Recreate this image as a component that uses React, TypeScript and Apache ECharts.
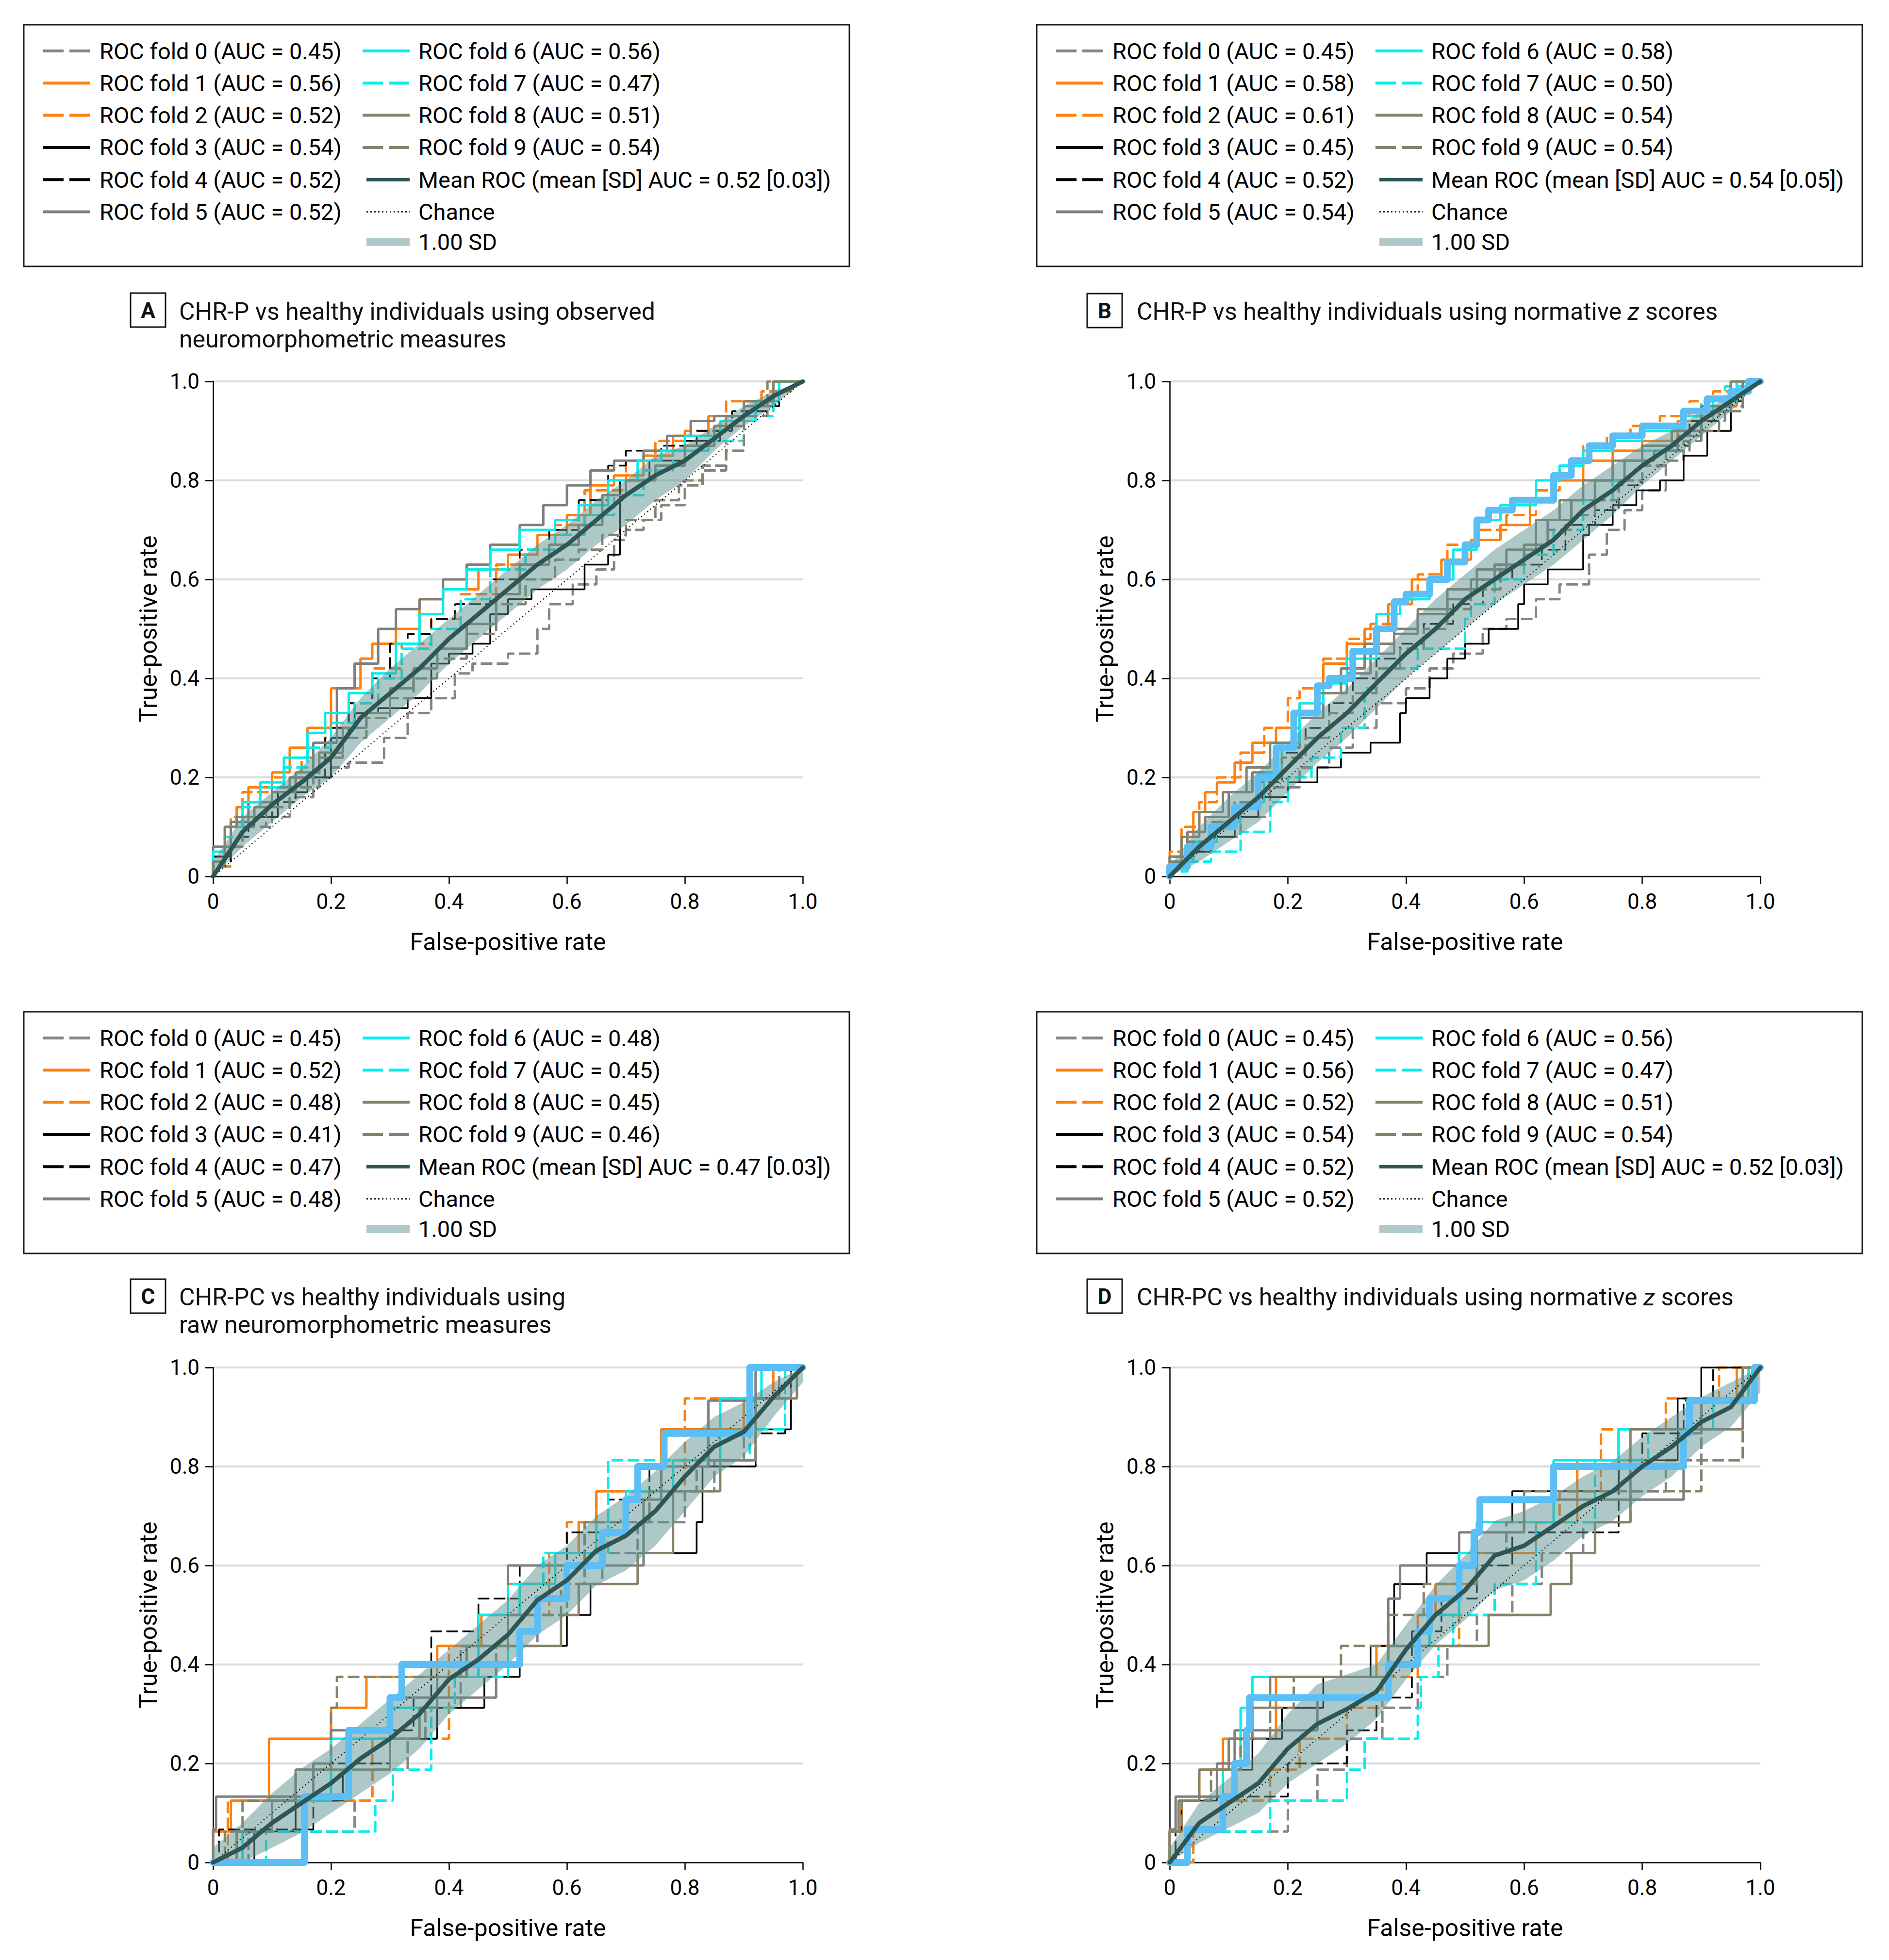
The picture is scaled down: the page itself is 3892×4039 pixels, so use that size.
import React, { useEffect, useRef } from "react";
import * as echarts from "echarts";

// ---------- shared ----------
const TICKS_NOTE = "ticks 0, 0.2, 0.4, 0.6, 0.8, 1.0";
const X_BAND = [0, 0.05, 0.1, 0.15, 0.2, 0.25, 0.3, 0.35, 0.4, 0.45, 0.5, 0.55, 0.6, 0.65, 0.7, 0.75, 0.8, 0.85, 0.9, 0.95, 1];
const CHANCE = [[0, 0], [1, 1]];

// ---------- Panel A ----------
const A_AUC = ["0.45", "0.56", "0.52", "0.54", "0.52", "0.52", "0.56", "0.47", "0.51", "0.54"];
const A_MEAN_LABEL = "0.52 [0.03]";
const A_F0 = [[0,0],[0.02,0.04],[0.05,0.08],[0.1,0.1],[0.13,0.12],[0.17,0.16],[0.2,0.2],[0.23,0.22],[0.29,0.23],[0.33,0.28],[0.37,0.33],[0.41,0.36],[0.44,0.41],[0.5,0.43],[0.55,0.45],[0.57,0.5],[0.61,0.55],[0.65,0.59],[0.68,0.62],[0.7,0.68],[0.73,0.7],[0.76,0.72],[0.8,0.75],[0.83,0.8],[0.87,0.83],[0.9,0.88],[0.95,0.94],[1,1]];
const A_F1 = [[0,0],[0.02,0.03],[0.04,0.1],[0.06,0.14],[0.1,0.18],[0.13,0.21],[0.16,0.26],[0.2,0.3],[0.25,0.38],[0.27,0.44],[0.31,0.47],[0.35,0.5],[0.39,0.56],[0.45,0.58],[0.5,0.62],[0.55,0.65],[0.6,0.69],[0.64,0.73],[0.68,0.79],[0.73,0.81],[0.78,0.85],[0.84,0.89],[0.9,0.93],[0.95,0.96],[1,1]];
const A_F2 = [[0,0],[0.03,0.02],[0.05,0.12],[0.1,0.17],[0.15,0.2],[0.19,0.24],[0.23,0.3],[0.27,0.35],[0.32,0.42],[0.37,0.47],[0.42,0.52],[0.48,0.57],[0.53,0.63],[0.58,0.66],[0.63,0.71],[0.7,0.78],[0.75,0.84],[0.8,0.88],[0.87,0.9],[0.93,0.96],[0.98,0.98],[1,1]];
const A_F3 = [[0,0],[0.03,0.04],[0.07,0.1],[0.11,0.12],[0.16,0.17],[0.2,0.2],[0.24,0.3],[0.28,0.33],[0.33,0.34],[0.37,0.36],[0.4,0.43],[0.44,0.45],[0.47,0.47],[0.5,0.53],[0.54,0.56],[0.63,0.58],[0.67,0.63],[0.69,0.65],[0.74,0.8],[0.8,0.84],[0.86,0.88],[0.92,0.92],[0.96,0.95],[1,1]];
const A_F4 = [[0,0],[0.03,0.03],[0.06,0.08],[0.1,0.12],[0.14,0.15],[0.19,0.2],[0.23,0.28],[0.27,0.35],[0.3,0.4],[0.33,0.47],[0.37,0.49],[0.41,0.52],[0.47,0.55],[0.52,0.6],[0.57,0.66],[0.62,0.7],[0.67,0.76],[0.7,0.83],[0.76,0.86],[0.82,0.87],[0.88,0.9],[0.94,0.94],[1,1]];
const A_F5 = [[0,0],[0.03,0.06],[0.06,0.11],[0.1,0.15],[0.13,0.18],[0.17,0.2],[0.21,0.27],[0.24,0.38],[0.28,0.43],[0.31,0.5],[0.35,0.54],[0.39,0.56],[0.43,0.6],[0.47,0.63],[0.52,0.67],[0.56,0.71],[0.6,0.75],[0.64,0.79],[0.68,0.82],[0.73,0.84],[0.77,0.86],[0.81,0.89],[0.85,0.92],[0.9,0.93],[0.95,0.95],[1,1]];
const A_F6 = [[0,0],[0.02,0.05],[0.05,0.1],[0.08,0.15],[0.12,0.19],[0.16,0.24],[0.19,0.29],[0.23,0.33],[0.27,0.37],[0.31,0.41],[0.35,0.47],[0.39,0.53],[0.43,0.58],[0.47,0.62],[0.52,0.66],[0.58,0.7],[0.62,0.72],[0.67,0.75],[0.72,0.8],[0.76,0.84],[0.8,0.86],[0.86,0.89],[0.92,0.92],[0.96,0.96],[1,1]];
const A_F7 = [[0,0],[0.02,0.03],[0.05,0.08],[0.08,0.14],[0.12,0.18],[0.16,0.22],[0.2,0.26],[0.24,0.31],[0.28,0.35],[0.32,0.4],[0.37,0.46],[0.42,0.5],[0.47,0.56],[0.53,0.62],[0.58,0.66],[0.63,0.69],[0.68,0.73],[0.73,0.77],[0.78,0.82],[0.84,0.86],[0.9,0.88],[0.95,0.93],[1,1]];
const A_F8 = [[0,0],[0.02,0.03],[0.04,0.1],[0.07,0.12],[0.1,0.14],[0.14,0.17],[0.18,0.21],[0.22,0.25],[0.26,0.3],[0.3,0.33],[0.34,0.38],[0.38,0.42],[0.43,0.46],[0.48,0.51],[0.52,0.57],[0.57,0.63],[0.62,0.67],[0.66,0.71],[0.7,0.77],[0.75,0.8],[0.8,0.83],[0.85,0.87],[0.9,0.91],[0.95,0.96],[1,1]];
const A_F9 = [[0,0],[0.02,0.02],[0.05,0.06],[0.09,0.1],[0.13,0.14],[0.18,0.18],[0.22,0.24],[0.26,0.28],[0.3,0.32],[0.34,0.36],[0.38,0.4],[0.43,0.44],[0.48,0.49],[0.53,0.55],[0.58,0.6],[0.62,0.64],[0.66,0.66],[0.7,0.69],[0.75,0.72],[0.79,0.76],[0.83,0.79],[0.87,0.82],[0.9,0.86],[0.94,0.93],[1,1]];
const A_MEAN = [0, 0.09, 0.145, 0.19, 0.24, 0.32, 0.37, 0.42, 0.48, 0.53, 0.58, 0.63, 0.67, 0.72, 0.77, 0.81, 0.84, 0.885, 0.93, 0.97, 1];
const A_UPPER = [0.03, 0.12, 0.17, 0.22, 0.28, 0.36, 0.42, 0.47, 0.52, 0.57, 0.62, 0.67, 0.71, 0.76, 0.8, 0.85, 0.87, 0.91, 0.95, 0.98, 1];
const A_LOWER = [0, 0.06, 0.11, 0.16, 0.2, 0.27, 0.32, 0.37, 0.43, 0.48, 0.53, 0.58, 0.62, 0.67, 0.71, 0.76, 0.8, 0.86, 0.91, 0.95, 1];

// ---------- Panel B ----------
const B_AUC = ["0.45", "0.58", "0.61", "0.45", "0.52", "0.54", "0.58", "0.50", "0.54", "0.54"];
const B_MEAN_LABEL = "0.54 [0.05]";
const B_F0 = [[0,0],[0.03,0.03],[0.07,0.05],[0.12,0.08],[0.17,0.12],[0.22,0.18],[0.27,0.22],[0.31,0.26],[0.35,0.3],[0.4,0.35],[0.44,0.38],[0.48,0.42],[0.53,0.45],[0.57,0.5],[0.62,0.52],[0.66,0.56],[0.71,0.59],[0.74,0.65],[0.77,0.7],[0.8,0.74],[0.84,0.78],[0.87,0.84],[0.9,0.88],[0.94,0.92],[0.97,0.95],[1,1]];
const B_F1 = [[0,0],[0.02,0.03],[0.04,0.08],[0.06,0.13],[0.08,0.17],[0.11,0.19],[0.14,0.23],[0.18,0.27],[0.22,0.3],[0.26,0.35],[0.3,0.43],[0.33,0.47],[0.37,0.5],[0.41,0.55],[0.46,0.6],[0.51,0.64],[0.56,0.68],[0.61,0.71],[0.65,0.76],[0.7,0.8],[0.75,0.84],[0.8,0.86],[0.86,0.88],[0.92,0.92],[0.96,0.95],[1,1]];
const B_F2 = [[0,0],[0.02,0.05],[0.05,0.1],[0.08,0.15],[0.12,0.2],[0.16,0.25],[0.2,0.3],[0.22,0.36],[0.26,0.38],[0.3,0.44],[0.34,0.48],[0.38,0.51],[0.42,0.56],[0.47,0.61],[0.52,0.67],[0.57,0.7],[0.62,0.73],[0.66,0.78],[0.7,0.83],[0.74,0.87],[0.78,0.89],[0.83,0.91],[0.88,0.93],[0.92,0.96],[0.97,0.98],[1,1]];
const B_F3 = [[0,0],[0.03,0.02],[0.07,0.05],[0.11,0.08],[0.15,0.12],[0.2,0.16],[0.25,0.19],[0.29,0.22],[0.34,0.25],[0.39,0.27],[0.4,0.33],[0.44,0.36],[0.47,0.4],[0.5,0.44],[0.54,0.47],[0.59,0.5],[0.6,0.55],[0.64,0.59],[0.7,0.62],[0.71,0.69],[0.75,0.71],[0.79,0.75],[0.83,0.78],[0.87,0.8],[0.91,0.85],[0.95,0.9],[1,1]];
const B_F4 = [[0,0],[0.03,0.03],[0.07,0.06],[0.11,0.1],[0.15,0.14],[0.19,0.19],[0.23,0.25],[0.27,0.3],[0.31,0.35],[0.35,0.4],[0.39,0.44],[0.43,0.47],[0.48,0.51],[0.53,0.55],[0.58,0.6],[0.63,0.63],[0.67,0.66],[0.72,0.71],[0.76,0.74],[0.8,0.79],[0.84,0.83],[0.88,0.87],[0.93,0.92],[0.97,0.96],[1,1]];
const B_F5 = [[0,0],[0.03,0.04],[0.06,0.09],[0.1,0.12],[0.14,0.17],[0.18,0.21],[0.22,0.26],[0.26,0.32],[0.3,0.37],[0.34,0.41],[0.38,0.45],[0.42,0.49],[0.47,0.53],[0.51,0.56],[0.55,0.6],[0.6,0.63],[0.64,0.67],[0.68,0.72],[0.72,0.76],[0.77,0.8],[0.82,0.84],[0.86,0.86],[0.9,0.89],[0.95,0.94],[1,1]];
const B_F6 = [[0,0],[0.04,0.03],[0.08,0.07],[0.12,0.11],[0.16,0.15],[0.19,0.21],[0.22,0.27],[0.26,0.35],[0.3,0.39],[0.35,0.44],[0.39,0.53],[0.44,0.56],[0.48,0.6],[0.52,0.66],[0.56,0.72],[0.62,0.75],[0.66,0.8],[0.7,0.83],[0.75,0.86],[0.8,0.88],[0.87,0.9],[0.92,0.93],[0.96,0.96],[1,1]];
const B_F7 = [[0,0],[0.03,0.01],[0.07,0.03],[0.12,0.05],[0.17,0.09],[0.2,0.15],[0.24,0.2],[0.29,0.24],[0.33,0.3],[0.35,0.38],[0.42,0.42],[0.5,0.46],[0.51,0.52],[0.55,0.55],[0.6,0.6],[0.65,0.65],[0.7,0.7],[0.75,0.76],[0.8,0.8],[0.85,0.86],[0.9,0.9],[0.94,0.96],[0.98,0.99],[1,1]];
const B_F8 = [[0,0],[0.02,0.04],[0.05,0.08],[0.09,0.13],[0.13,0.17],[0.17,0.22],[0.21,0.27],[0.25,0.33],[0.29,0.37],[0.33,0.42],[0.38,0.47],[0.42,0.5],[0.47,0.54],[0.52,0.58],[0.57,0.62],[0.62,0.66],[0.66,0.72],[0.7,0.76],[0.75,0.8],[0.8,0.84],[0.85,0.87],[0.9,0.9],[0.95,0.95],[1,1]];
const B_F9 = [[0,0],[0.03,0.03],[0.07,0.07],[0.11,0.11],[0.15,0.15],[0.19,0.2],[0.23,0.24],[0.27,0.28],[0.31,0.33],[0.35,0.37],[0.39,0.42],[0.43,0.46],[0.47,0.5],[0.51,0.54],[0.56,0.58],[0.6,0.63],[0.64,0.67],[0.68,0.7],[0.72,0.73],[0.76,0.76],[0.8,0.8],[0.84,0.83],[0.88,0.86],[0.93,0.9],[0.97,0.94],[1,1]];
const B_HIGHLIGHT = [[0,0],[0.03,0.02],[0.07,0.06],[0.11,0.1],[0.15,0.14],[0.18,0.2],[0.21,0.26],[0.25,0.33],[0.27,0.385],[0.31,0.4],[0.35,0.455],[0.38,0.5],[0.4,0.555],[0.44,0.57],[0.47,0.6],[0.5,0.635],[0.52,0.67],[0.54,0.72],[0.58,0.74],[0.65,0.76],[0.68,0.81],[0.71,0.84],[0.75,0.87],[0.8,0.89],[0.87,0.91],[0.91,0.94],[0.95,0.965],[0.98,0.98],[1,1]];
const B_MEAN = [0, 0.06, 0.11, 0.16, 0.22, 0.28, 0.33, 0.39, 0.45, 0.5, 0.56, 0.6, 0.64, 0.68, 0.74, 0.78, 0.83, 0.87, 0.92, 0.96, 1];
const B_UPPER = [0.02, 0.1, 0.16, 0.21, 0.27, 0.33, 0.38, 0.44, 0.5, 0.56, 0.61, 0.66, 0.7, 0.74, 0.79, 0.83, 0.87, 0.9, 0.94, 0.97, 1];
const B_LOWER = [0, 0.03, 0.07, 0.11, 0.17, 0.23, 0.28, 0.34, 0.4, 0.45, 0.5, 0.55, 0.59, 0.63, 0.68, 0.73, 0.79, 0.84, 0.89, 0.94, 1];

// ---------- Panel C ----------
const C_AUC = ["0.45", "0.52", "0.48", "0.41", "0.47", "0.48", "0.48", "0.45", "0.45", "0.46"];
const C_MEAN_LABEL = "0.47 [0.03]";
const C_F0 = [[0,0],[0.06,0],[0.12,0.0625],[0.24,0.0625],[0.27,0.125],[0.33,0.1875],[0.36,0.25],[0.42,0.3125],[0.48,0.375],[0.55,0.4375],[0.6,0.5],[0.66,0.5625],[0.72,0.625],[0.8,0.6875],[0.85,0.75],[0.9,0.8125],[0.96,0.9375],[1,1]];
const C_F1 = [[0,0],[0.03,0.0625],[0.095,0.125],[0.2,0.25],[0.26,0.3125],[0.38,0.375],[0.455,0.4375],[0.5,0.5],[0.58,0.5625],[0.62,0.625],[0.65,0.6875],[0.76,0.75],[0.79,0.875],[0.9,0.875],[0.95,0.9375],[1,1]];
const C_F2 = [[0,0],[0.025,0],[0.1,0.125],[0.27,0.125],[0.3,0.25],[0.4,0.25],[0.45,0.4375],[0.52,0.5],[0.57,0.5],[0.6,0.625],[0.65,0.6875],[0.72,0.75],[0.8,0.75],[0.86,0.9375],[0.97,0.9375],[1,1]];
const C_F3 = [[0,0],[0.07,0],[0.14,0.0625],[0.22,0.125],[0.3,0.1875],[0.38,0.25],[0.46,0.3125],[0.52,0.375],[0.6,0.4375],[0.64,0.5],[0.72,0.5625],[0.76,0.625],[0.82,0.625],[0.83,0.6875],[0.92,0.8],[0.98,0.875],[1,1]];
const C_F4 = [[0,0],[0.01,0],[0.1,0.0667],[0.17,0.0667],[0.2,0.133],[0.3,0.2],[0.34,0.267],[0.37,0.333],[0.45,0.467],[0.52,0.533],[0.6,0.6],[0.67,0.667],[0.74,0.733],[0.8,0.8],[0.92,0.8],[0.97,0.867],[0.99,1],[1,1]];
const C_F5 = [[0,0],[0.005,0.0667],[0.03,0.133],[0.17,0.133],[0.2,0.2],[0.3,0.267],[0.36,0.333],[0.48,0.333],[0.5,0.4],[0.55,0.6],[0.73,0.6],[0.76,0.733],[0.84,0.8],[0.85,0.933],[0.92,0.933],[0.97,1],[1,1]];
const C_F6 = [[0,0],[0.05,0],[0.1,0.0625],[0.2,0.125],[0.3,0.25],[0.38,0.3125],[0.45,0.375],[0.52,0.5],[0.58,0.5625],[0.65,0.625],[0.7,0.6875],[0.78,0.75],[0.86,0.8125],[0.93,0.9375],[1,1]];
const C_F7 = [[0,0],[0.09,0],[0.14,0.0625],[0.275,0.0625],[0.305,0.125],[0.37,0.1875],[0.41,0.3125],[0.5,0.375],[0.56,0.5625],[0.67,0.625],[0.91,0.8125],[0.97,0.875],[1,1]];
const C_F8 = [[0,0],[0.04,0],[0.1,0.0625],[0.14,0.125],[0.3,0.1875],[0.35,0.25],[0.38,0.3125],[0.43,0.375],[0.59,0.4375],[0.62,0.5],[0.72,0.5625],[0.78,0.625],[0.86,0.75],[0.92,0.8125],[0.99,0.9375],[1,1]];
const C_F9 = [[0,0],[0.02,0],[0.05,0.0625],[0.14,0.125],[0.2,0.1875],[0.21,0.3125],[0.36,0.375],[0.42,0.375],[0.5,0.4375],[0.59,0.5],[0.63,0.5625],[0.74,0.6875],[0.82,0.75],[0.92,0.8125],[0.98,0.9375],[1,1]];
const C_HIGHLIGHT = [[0,0],[0.155,0],[0.23,0.133],[0.3,0.267],[0.32,0.333],[0.52,0.4],[0.55,0.467],[0.6,0.533],[0.66,0.6],[0.7,0.667],[0.72,0.733],[0.765,0.8],[0.91,0.867],[1,1]];
const C_MEAN = [0, 0.03, 0.08, 0.12, 0.16, 0.21, 0.25, 0.3, 0.37, 0.41, 0.46, 0.53, 0.57, 0.63, 0.66, 0.71, 0.78, 0.84, 0.87, 0.94, 1];
const C_UPPER = [0.03, 0.08, 0.14, 0.19, 0.23, 0.28, 0.33, 0.38, 0.43, 0.48, 0.53, 0.6, 0.64, 0.7, 0.74, 0.79, 0.85, 0.9, 0.93, 0.97, 1];
const C_LOWER = [0, 0, 0.03, 0.06, 0.1, 0.14, 0.18, 0.23, 0.3, 0.35, 0.4, 0.46, 0.5, 0.56, 0.59, 0.64, 0.71, 0.78, 0.82, 0.9, 0.97];

// ---------- Panel D ----------
const D_AUC = ["0.45", "0.56", "0.52", "0.54", "0.52", "0.52", "0.56", "0.47", "0.51", "0.54"];
const D_MEAN_LABEL = "0.52 [0.03]";
const D_F0 = [[0,0],[0.03,0],[0.1,0.0625],[0.2,0.0625],[0.25,0.125],[0.3,0.1875],[0.36,0.25],[0.42,0.3125],[0.47,0.375],[0.52,0.4375],[0.58,0.5],[0.63,0.5625],[0.7,0.625],[0.78,0.6875],[0.84,0.75],[0.9,0.8125],[0.97,0.875],[1,1]];
const D_F1 = [[0,0],[0.02,0.0625],[0.05,0.125],[0.09,0.1875],[0.18,0.25],[0.35,0.375],[0.42,0.4375],[0.45,0.5],[0.52,0.5625],[0.62,0.625],[0.69,0.6875],[0.76,0.8125],[0.9,0.875],[0.96,0.9375],[1,1]];
const D_F2 = [[0,0],[0.04,0],[0.09,0.0625],[0.17,0.125],[0.22,0.1875],[0.3,0.25],[0.36,0.3125],[0.42,0.375],[0.49,0.4375],[0.55,0.5],[0.62,0.5625],[0.66,0.6875],[0.73,0.75],[0.84,0.875],[0.93,0.9375],[1,1]];
const D_F3 = [[0,0],[0.02,0.0625],[0.08,0.125],[0.14,0.1875],[0.19,0.25],[0.26,0.3125],[0.34,0.375],[0.38,0.4375],[0.4,0.5625],[0.435,0.5625],[0.52,0.625],[0.58,0.6875],[0.76,0.75],[0.86,0.8125],[0.9,0.9375],[1,1]];
const D_F4 = [[0,0],[0.01,0],[0.1,0.133],[0.2,0.133],[0.3,0.2],[0.35,0.267],[0.41,0.333],[0.46,0.467],[0.52,0.533],[0.58,0.6],[0.76,0.667],[0.8,0.8],[0.87,0.867],[0.92,0.933],[0.98,1],[1,1]];
const D_F5 = [[0,0],[0.01,0.0667],[0.08,0.133],[0.11,0.2],[0.25,0.267],[0.37,0.333],[0.39,0.533],[0.49,0.6],[0.6,0.667],[0.87,0.733],[0.9,0.867],[0.97,0.933],[1,1]];
const D_F6 = [[0,0],[0.03,0],[0.09,0.0625],[0.12,0.1875],[0.14,0.3125],[0.37,0.375],[0.44,0.4375],[0.49,0.5],[0.52,0.625],[0.65,0.6875],[0.76,0.8125],[0.88,0.875],[0.98,0.9375],[1,1]];
const D_F7 = [[0,0],[0.03,0],[0.17,0.0625],[0.3,0.125],[0.33,0.1875],[0.42,0.25],[0.425,0.3125],[0.455,0.375],[0.48,0.4375],[0.55,0.5],[0.62,0.5625],[0.72,0.6875],[0.81,0.8125],[0.92,0.875],[0.99,0.9375],[1,1]];
const D_F8 = [[0,0],[0.015,0.0625],[0.05,0.125],[0.1,0.1875],[0.14,0.25],[0.17,0.3125],[0.37,0.375],[0.54,0.4375],[0.645,0.5],[0.68,0.5625],[0.72,0.625],[0.78,0.6875],[0.97,0.875],[1,1]];
const D_F9 = [[0,0],[0.02,0.0625],[0.07,0.125],[0.12,0.1875],[0.17,0.25],[0.21,0.3125],[0.29,0.375],[0.37,0.4375],[0.43,0.5],[0.52,0.5625],[0.57,0.625],[0.6,0.6875],[0.65,0.75],[0.9,0.75],[0.97,0.8125],[1,1]];
const D_HIGHLIGHT = [[0,0],[0.03,0],[0.09,0.067],[0.11,0.133],[0.13,0.2],[0.135,0.267],[0.37,0.333],[0.42,0.4],[0.44,0.467],[0.49,0.533],[0.515,0.6],[0.525,0.667],[0.65,0.733],[0.87,0.8],[0.88,0.867],[0.99,0.933],[1,1]];
const D_MEAN = [0, 0.08, 0.12, 0.16, 0.23, 0.28, 0.31, 0.345, 0.43, 0.5, 0.55, 0.62, 0.64, 0.68, 0.72, 0.75, 0.8, 0.84, 0.89, 0.92, 1];
const D_UPPER = [0.03, 0.12, 0.17, 0.22, 0.3, 0.36, 0.38, 0.4, 0.48, 0.56, 0.62, 0.69, 0.71, 0.74, 0.78, 0.81, 0.86, 0.9, 0.94, 0.97, 1];
const D_LOWER = [0, 0.04, 0.07, 0.1, 0.16, 0.2, 0.24, 0.29, 0.37, 0.44, 0.49, 0.55, 0.57, 0.61, 0.66, 0.69, 0.74, 0.78, 0.84, 0.88, 0.95];

// ---------- styles ----------
const FONT = "Roboto, 'DejaVu Sans', sans-serif";
const DASH_PLOT = [24, 9];
const DASH_LEG = [42, 12];
const FOLD_COLORS = ["#858585", "#ff7f0e", "#ff7f0e", "#000000", "#000000", "#7f7f7f", "#00eeee", "#00eeee", "#85836c", "#85836c"];
const FOLD_DASHED = [true, false, true, false, true, false, false, true, false, true];
const FOLD_WIDTH = [5, 5, 5, 3.5, 3.5, 5, 5, 5, 5, 5];
const MEAN_COLOR = "#2d5654";
const BAND_FILL = "rgba(94,145,143,0.5)";
const SD_SWATCH = "#b0c9c8";
const HIGHLIGHT_COLOR = "#5bbff5";

type Panel = {
  letter: string;
  titleLines: string[];
  folds: number[][][];
  highlight: number[][] | null;
  mean: number[];
  upper: number[];
  lower: number[];
  auc: string[];
  meanLabel: string;
  grid: { left: number; top: number; width: number; height: number };
  legend: { left: number; top: number };
  box: { x: number; y: number };
  titleX: number;
  titleY: number;
};

const PANELS: Panel[] = [
  {
    letter: "A",
    titleLines: ["CHR-P vs healthy individuals using observed", "neuromorphometric measures"],
    folds: [A_F0, A_F1, A_F2, A_F3, A_F4, A_F5, A_F6, A_F7, A_F8, A_F9],
    highlight: null, mean: A_MEAN, upper: A_UPPER, lower: A_LOWER, auc: A_AUC, meanLabel: A_MEAN_LABEL,
    grid: { left: 439, top: 786, width: 1215, height: 1020 },
    legend: { left: 49, top: 51 }, box: { x: 269, y: 604 }, titleX: 369, titleY: 642,
  },
  {
    letter: "B",
    titleLines: ["CHR-P vs healthy individuals using normative {i|z} scores"],
    folds: [B_F0, B_F1, B_F2, B_F3, B_F4, B_F5, B_F6, B_F7, B_F8, B_F9],
    highlight: B_HIGHLIGHT, mean: B_MEAN, upper: B_UPPER, lower: B_LOWER, auc: B_AUC, meanLabel: B_MEAN_LABEL,
    grid: { left: 2410, top: 786, width: 1217, height: 1020 },
    legend: { left: 2136, top: 51 }, box: { x: 2240, y: 605 }, titleX: 2342, titleY: 642,
  },
  {
    letter: "C",
    titleLines: ["CHR-PC vs healthy individuals using", "raw neuromorphometric measures"],
    folds: [C_F0, C_F1, C_F2, C_F3, C_F4, C_F5, C_F6, C_F7, C_F8, C_F9],
    highlight: C_HIGHLIGHT, mean: C_MEAN, upper: C_UPPER, lower: C_LOWER, auc: C_AUC, meanLabel: C_MEAN_LABEL,
    grid: { left: 439, top: 2818, width: 1215, height: 1020 },
    legend: { left: 49, top: 2085 }, box: { x: 269, y: 2636 }, titleX: 369, titleY: 2673,
  },
  {
    letter: "D",
    titleLines: ["CHR-PC vs healthy individuals using normative {i|z} scores"],
    folds: [D_F0, D_F1, D_F2, D_F3, D_F4, D_F5, D_F6, D_F7, D_F8, D_F9],
    highlight: D_HIGHLIGHT, mean: D_MEAN, upper: D_UPPER, lower: D_LOWER, auc: D_AUC, meanLabel: D_MEAN_LABEL,
    grid: { left: 2410, top: 2818, width: 1217, height: 1020 },
    legend: { left: 2136, top: 2085 }, box: { x: 2240, y: 2636 }, titleX: 2342, titleY: 2673,
  },
];

const LEG_W = 1701;
const LEG_H = 498;
const ROW0 = 54;
const ROW_STEP = 66.3;

function legendGraphics(p: Panel): any[] {
  const L = p.legend.left;
  const T = p.legend.top;
  const els: any[] = [];
  els.push({ type: "rect", shape: { x: L, y: T, width: LEG_W, height: LEG_H }, style: { fill: "none", stroke: "#1a1a1a", lineWidth: 3 } });
  const textStyle = (x: number, y: number, t: string) => ({
    type: "text", x, y,
    style: { text: t, fill: "#000", fontSize: 47, fontFamily: FONT, verticalAlign: "middle", align: "left" },
  });
  for (let i = 0; i < 10; i++) {
    const col = i < 6 ? 0 : 1;
    const row = i < 6 ? i : i - 6;
    const y = T + ROW0 + row * ROW_STEP;
    const x1 = col === 0 ? L + 40 : L + 698;
    const x2 = col === 0 ? L + 136 : L + 795;
    const tx = col === 0 ? L + 156 : L + 813;
    els.push({
      type: "line", shape: { x1, y1: y, x2, y2: y },
      style: { stroke: FOLD_COLORS[i], lineWidth: 6, lineDash: FOLD_DASHED[i] ? DASH_LEG : null },
    });
    els.push(textStyle(tx, y, `ROC fold ${i} (AUC = ${p.auc[i]})`));
  }
  const yMean = T + ROW0 + 4 * ROW_STEP;
  els.push({ type: "line", shape: { x1: L + 706, y1: yMean, x2: L + 795, y2: yMean }, style: { stroke: MEAN_COLOR, lineWidth: 7 } });
  els.push(textStyle(L + 813, yMean, `Mean ROC (mean [SD] AUC = ${p.meanLabel})`));
  const yCh = T + ROW0 + 5 * ROW_STEP;
  els.push({ type: "line", shape: { x1: L + 706, y1: yCh, x2: L + 795, y2: yCh }, style: { stroke: "#000", lineWidth: 2.5, lineDash: [3, 5] } });
  els.push(textStyle(L + 813, yCh, "Chance"));
  const ySd = T + ROW0 + 6 * ROW_STEP - 4;
  els.push({ type: "rect", shape: { x: L + 706, y: ySd - 8, width: 89, height: 16 }, style: { fill: SD_SWATCH } });
  els.push(textStyle(L + 813, ySd, "1.00 SD"));
  return els;
}

function titleGraphics(p: Panel): any[] {
  const els: any[] = [];
  els.push({ type: "rect", shape: { x: p.box.x, y: p.box.y, width: 72, height: 70 }, style: { fill: "#fff", stroke: "#111", lineWidth: 3 } });
  els.push({
    type: "text", x: p.box.x + 36, y: p.box.y + 36,
    style: { text: p.letter, fontSize: 44, fontWeight: "bold", fontFamily: FONT, fill: "#111", align: "center", verticalAlign: "middle" },
  });
  p.titleLines.forEach((line, i) => {
    els.push({
      type: "text", x: p.titleX, y: p.titleY + i * 57,
      style: {
        text: line, fontSize: 50, fontFamily: FONT, fill: "#111", align: "left", verticalAlign: "middle",
        rich: { i: { fontStyle: "italic", fontSize: 50, fontFamily: FONT, fill: "#111" } },
      },
    });
  });
  return els;
}

function buildOption(): any {
  const grids: any[] = [];
  const xAxes: any[] = [];
  const yAxes: any[] = [];
  const series: any[] = [];
  const graphics: any[] = [];
  const axisCommon = {
    type: "value", min: 0, max: 1, interval: 0.2,
    axisLine: { show: true, onZero: false, lineStyle: { color: "#000", width: 2.5 } },
    axisTick: { show: true, inside: false, length: 16, lineStyle: { color: "#000", width: 2.5 } },
    axisLabel: {
      fontSize: 44, color: "#000", fontFamily: FONT,
      formatter: (v: number) => (v === 0 ? "0" : v.toFixed(1)),
    },
    nameLocation: "middle",
    nameTextStyle: { fontSize: 50, color: "#000", fontFamily: FONT },
  };
  PANELS.forEach((p, k) => {
    grids.push({ ...p.grid, containLabel: false });
    xAxes.push({
      ...axisCommon, gridIndex: k, name: "False-positive rate", nameGap: 110,
      axisLabel: { ...axisCommon.axisLabel, margin: 30 },
      splitLine: { show: false },
    });
    yAxes.push({
      ...axisCommon, gridIndex: k, name: "True-positive rate", nameGap: 108,
      axisLabel: { ...axisCommon.axisLabel, margin: 28 },
      splitLine: { show: true, lineStyle: { color: "#d9d9d9", width: 4 } },
    });
    p.folds.forEach((pts, i) => {
      series.push({
        type: "line", name: `${p.letter} fold ${i}`, xAxisIndex: k, yAxisIndex: k,
        data: pts, step: "start", showSymbol: false, symbol: "none", silent: true, z: 2,
        lineStyle: { color: FOLD_COLORS[i], width: FOLD_WIDTH[i], type: FOLD_DASHED[i] ? DASH_PLOT : "solid" },
      });
    });
    const upper = p.upper;
    const lower = p.lower;
    series.push({
      type: "custom", name: `${p.letter} SD`, xAxisIndex: k, yAxisIndex: k, silent: true, z: 3,
      data: [[0, 0]],
      renderItem: (_params: any, api: any) => {
        const top = X_BAND.map((x, i) => api.coord([x, upper[i]]));
        const bottom = X_BAND.map((x, i) => api.coord([x, lower[i]])).reverse();
        return { type: "polygon", shape: { points: top.concat(bottom) }, style: { fill: BAND_FILL } };
      },
    });
    series.push({
      type: "line", name: `${p.letter} chance`, xAxisIndex: k, yAxisIndex: k, data: CHANCE,
      showSymbol: false, symbol: "none", silent: true, z: 4,
      lineStyle: { color: "#000", width: 2.5, type: [2, 6] },
    });
    if (p.highlight) {
      series.push({
        type: "line", name: `${p.letter} highlight`, xAxisIndex: k, yAxisIndex: k, data: p.highlight,
        step: "start", showSymbol: false, symbol: "none", silent: true, z: 5,
        lineStyle: { color: HIGHLIGHT_COLOR, width: 14, cap: "round", join: "round" },
      });
    }
    series.push({
      type: "line", name: `${p.letter} mean`, xAxisIndex: k, yAxisIndex: k,
      data: X_BAND.map((x, i) => [x, p.mean[i]]),
      showSymbol: false, symbol: "none", silent: true, z: 6,
      lineStyle: { color: MEAN_COLOR, width: 9, join: "round", cap: "round" },
    });
    graphics.push(...legendGraphics(p), ...titleGraphics(p));
  });
  return {
    animation: false,
    backgroundColor: "#fff",
    textStyle: { fontFamily: FONT },
    grid: grids,
    xAxis: xAxes,
    yAxis: yAxes,
    series,
    graphic: { elements: graphics },
  };
}

export default function App() {
  const ref = useRef<HTMLDivElement | null>(null);
  useEffect(() => {
    if (!ref.current) return;
    const chart = echarts.init(ref.current, null, { renderer: "svg" });
    chart.setOption(buildOption());
    return () => chart.dispose();
  }, []);
  return (
    <div
      ref={ref}
      data-note={TICKS_NOTE}
      style={{ position: "absolute", left: 0, top: 0, width: 3892, height: 4039, background: "#fff" }}
    />
  );
}
